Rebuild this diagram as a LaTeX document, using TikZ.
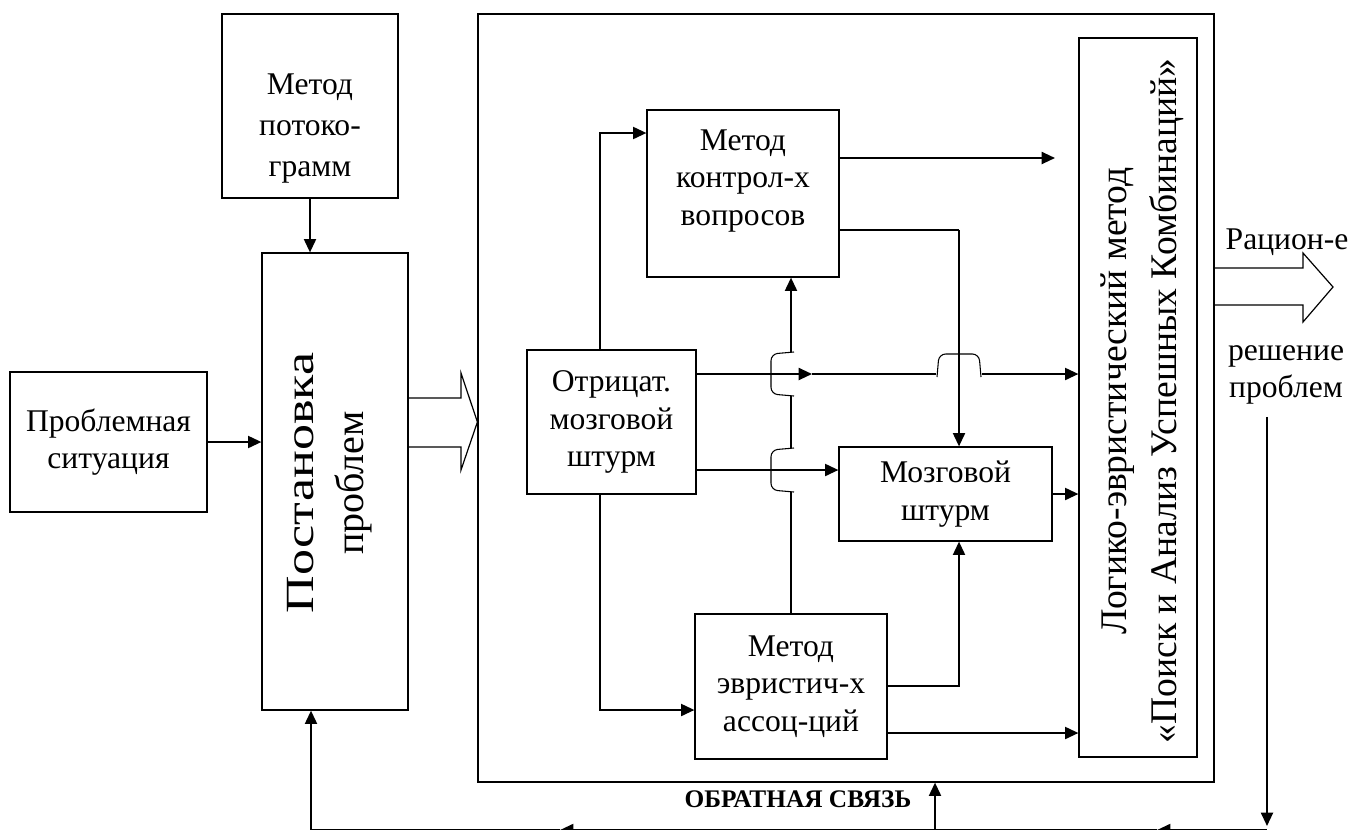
\documentclass[tikz,border=0pt]{standalone}
\usepackage{fontspec}
\setmainfont{Liberation Serif}
\usetikzlibrary{arrows.meta,calc}

\tikzset{
  box/.style={draw, line width=0.9pt, inner sep=0pt, align=center, font=\fontsize{23.7}{28}\selectfont},
  sz/.style 2 args={minimum width=#1*0.75pt, minimum height=#2*0.75pt},
  txt/.style={align=center, inner sep=0pt, font=\fontsize{23.7}{28}\selectfont},
  vtxt/.style={rotate=90, inner sep=0pt, align=center, font=\fontsize{29}{37.5}\selectfont},
  conn/.style={line width=1.5pt},
  thinline/.style={line width=0.8pt},
  hollow/.style={line width=0.9pt, line join=miter},
  hop/.pic={\draw[thinline, rounded corners=5pt] (-22,3) -- (-20,-20) -- (20,-20) -- (22,3);}
}

\begin{document}
\begin{tikzpicture}[x=0.75pt, y=-0.75pt, >={Triangle[length=10pt,width=9pt]}]
  \useasboundingbox (0,0) rectangle (1351,829);
  \clip (0,0) rectangle (1351,829);

  % outer frame
  \node[draw, line width=0.9pt, sz={736}{768}] (frame) at (846,398) {};

  % left part
  \node[box, sz={197}{140}] (ps) at (108.5,442) {Проблемная\\ситуация};
  \node[box, sz={176}{184}] (pg) at (310,106) {};
  \node[txt, font=\fontsize{23.7}{30.75}\selectfont] (pgt) at (310,129) {Метод\\потоко-\\грамм};
  \node[box, sz={146}{457}] (pp) at (335,481.5) {};
  \node[vtxt, font=\fontsize{30}{37.5}\selectfont] (ppt) at (330,483) {\scalebox{1.3}[1]{Постановка}\\проблем};

  % blocks inside the frame
  \node[box, sz={192}{167}] (kv) at (743,193.5) {};
  \node[txt] (kvt) at (743,181) {Метод\\контрол-х\\вопросов};
  \node[box, sz={169}{144}] (ot) at (611.5,422) {Отрицат.\\мозговой\\штурм};
  \node[box, sz={213}{94}] (mz) at (945.5,494) {Мозговой\\штурм};
  \node[box, sz={192}{145}] (as) at (791,686.5) {Метод\\эвристич-х\\ассоц-ций};
  \node[box, sz={118}{719}] (lem) at (1138,397.5) {};
  \node[vtxt, font=\fontsize{28.2}{37.5}\selectfont] (lemt) at (1142,401) {Логико-эвристический метод\\«Поиск и Анализ Успешных Комбинаций»};

  % labels
  \node[txt] (rat) at (1287,242) {Рацион-е};
  \node[txt] (rp) at (1286,375) {решение\\проблем};
  \node[font=\bfseries\fontsize{19}{22}\selectfont] (fb) at (798,799) {ОБРАТНАЯ СВЯЗЬ};

  % bus lines and crossings
  \coordinate (xa) at (600,0);
  \coordinate (xb) at (959,0);
  \coordinate (c1) at (as.north |- 0,374);
  \coordinate (c2) at (as.north |- 0,470);
  \coordinate (c3) at (xb |- c1);
  \coordinate (kvend) at (1055,158);

  % left connectors
  \draw[conn,->] (ps.east) -- (ps.east -| pp.west);
  \draw[conn,->] (pg.south) -- (pg.south |- pp.north);
  \draw[hollow] (pp.east |- 0,398) -- (461,398) -- (461,373) -- (frame.west |- 0,422)
    -- (461,470) -- (461,447) -- (pp.east |- 0,447);

  % connectors inside the frame
  \draw[conn,->] (ot.north -| xa) |- (kv.west |- 0,133);
  \draw[conn,->] (kv.east |- kvend) -- (kvend);
  \draw[thinline] (kv.east |- 0,230) -- (xb |- 0,230);
  \draw[conn,->] (xb |- 0,230) -- (mz.north -| xb);
  \draw[conn,->] (ot.east |- c1) -- ($(c1)+(21,0)$);
  \draw[thinline] ($(c1)+(21,0)$) -- ($(c3)+(-23,0)$);
  \pic at (c3) {hop};
  \draw[conn,->] ($(c3)+(23,0)$) -- (lem.west |- c3);
  \draw[conn,->] (ot.east |- c2) -- (mz.west |- c2);
  \draw[conn,->] (ot.south -| xa) |- (as.west |- 0,710);
  \draw[thinline] (as.north) -- ($(c2)+(0,22)$);
  \draw[thinline] ($(c2)+(0,-22)$) -- ($(c1)+(0,22)$);
  \draw[conn,->] ($(c1)+(0,-22)$) -- (as.north |- kv.south);
  \pic[rotate=90] at (c1) {hop};
  \pic[rotate=90] at (c2) {hop};
  \draw[conn,->] (as.east |- 0,686) -| (mz.south -| xb);
  \draw[conn,->] (as.east |- 0,733) -- (lem.west |- 0,733);
  \draw[conn,->] (mz.east) -- (mz.east -| lem.west);

  % output
  \draw[hollow] (frame.east |- 0,268) -- (1303,268) -- (1303,253) -- (1333,287)
    -- (1303,322) -- (1303,305) -- (frame.east |- 0,305);

  % feedback
  \coordinate (fR) at (1267,830);
  \coordinate (fM) at (935,830);
  \coordinate (fL) at (311,830);
  \coordinate (a1) at (1157,830);
  \coordinate (a2) at (560,830);
  \draw[conn,->] ($(rp.south -| fR)+(0,12)$) -- ($(fR)+(0,-4)$);
  \draw[conn,->] (fR) -- (a1);
  \draw[conn,->] (a1) -- (a2);
  \draw[conn] (a2) -- (fL);
  \draw[conn,->] (fM) -- (fM |- frame.south);
  \draw[conn,->] (fL) -- (fL |- pp.south);
\end{tikzpicture}
\end{document}
